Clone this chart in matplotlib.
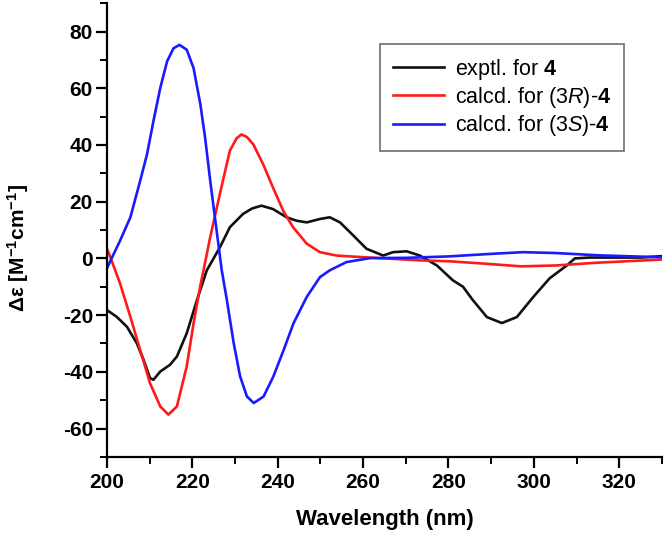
import numpy as np
import matplotlib
matplotlib.use("Agg")
import matplotlib.pyplot as plt
from matplotlib.ticker import MultipleLocator

# =========================
# FONTS
# =========================

plt.rcParams['font.family'] = ['Liberation Sans', 'DejaVu Sans']
plt.rcParams['mathtext.fontset'] = 'custom'
plt.rcParams['mathtext.rm'] = 'Liberation Sans'
plt.rcParams['mathtext.it'] = 'Liberation Sans:italic'
plt.rcParams['mathtext.bf'] = 'Liberation Sans:bold'
plt.rcParams['axes.unicode_minus'] = False

# =========================
# DATA
# =========================

wl_exptl = [200, 202.3, 204.7, 207, 208.6, 210.1, 210.9, 212.5, 214.8, 216.4,
            218.7, 221.1, 223.4, 226.5, 228.8, 231.9, 234, 236.2, 238.9, 242.1,
            244.4, 246.8, 249.9, 252.2, 254.6, 257.7, 260.8, 264.7, 267, 270.2,
            273.3, 277.3, 281, 283.4, 285.7, 289, 292.5, 296, 299.8, 303.7,
            307.7, 309.6, 313, 320, 325, 330]
de_exptl = [-18.2, -20.6, -24.1, -29.9, -35.8, -42.2, -42.8, -39.9, -37.5, -34.6,
            -26.4, -14.7, -4.2, 4, 11, 15.7, 17.6, 18.6, 17.4, 14.5,
            13.3, 12.7, 13.9, 14.5, 12.7, 8.1, 3.4, 1, 2.2, 2.5,
            1, -2.5, -7.7, -10, -14.7, -20.7, -22.8, -20.7, -13.7, -7,
            -2.5, 0, 0.3, 0.3, 0.3, 0.8]

wl_3R = [200, 200.8, 203.1, 205.5, 207.8, 210.1, 212.5, 214.4, 216.4, 218.7,
         220.3, 221.9, 223.2, 224.2, 226.5, 228.8, 230.4, 231.5, 232.8, 234.3,
         236.6, 238.9, 241.3, 243.6, 246.8, 249.9, 253.8, 259.3, 265, 273.3,
         280, 288, 297, 305, 315, 330]
de_3R = [3.5, 0.5, -8.9, -20.6, -32.3, -44, -52.2, -55.1, -52.2, -38.1,
         -22.9, -9.5, 0, 7.5, 23, 38, 42.4, 43.7, 42.8, 40.2,
         33.2, 25, 16.8, 11, 5.2, 2.2, 1, 0.5, 0, -0.7,
         -1, -1.8, -2.8, -2.5, -1.5, -0.4]

wl_3S = [200, 203.1, 205.5, 207.8, 209.4, 210.9, 212.5, 214.1, 215.6, 217,
         218.7, 220.3, 221.9, 223, 224.2, 225.4, 226.9, 228.1, 229.7, 231.2,
         232.8, 234.4, 236.7, 239, 241.4, 243.7, 246.8, 249.9, 252.2, 256.1,
         261.6, 270, 280, 290, 297.4, 305, 315, 330]
de_3S = [-3.5, 6.3, 14.5, 27.4, 36.7, 48.4, 60.1, 69.5, 74.1, 75.3,
         73.6, 67.1, 54.3, 42.6, 27.4, 13.3, -4.2, -14.7, -29.9, -41.6,
         -48.7, -51, -48.7, -41.6, -32.3, -22.9, -13.6, -6.6, -4.2, -1.3,
         0.1, 0.2, 0.7, 1.6, 2.2, 1.9, 1.1, 0.4]

labels = [r'exptl. for $\mathbf{4}$',
          r'calcd. for (3$\mathit{R}$)-$\mathbf{4}$',
          r'calcd. for (3$\mathit{S}$)-$\mathbf{4}$']
colors = ['#111111', '#ff1a1a', '#1a1aff']

# =========================
# PLOT
# =========================

fig = plt.figure(figsize=(6.68, 5.35), dpi=100)
ax = fig.add_axes([0.160, 0.146, 0.831, 0.848])

ax.plot(wl_exptl, de_exptl, color=colors[0], lw=1.9, label=labels[0],
        solid_joinstyle='round')
ax.plot(wl_3R, de_3R, color=colors[1], lw=1.9, label=labels[1],
        solid_joinstyle='round')
ax.plot(wl_3S, de_3S, color=colors[2], lw=1.9, label=labels[2],
        solid_joinstyle='round')

ax.set_xlim(200, 330)
ax.set_ylim(-70, 90)

ax.xaxis.set_major_locator(MultipleLocator(20))
ax.xaxis.set_minor_locator(MultipleLocator(10))
ax.yaxis.set_minor_locator(MultipleLocator(10))
ax.set_yticks([-60, -40, -20, 0, 20, 40, 60, 80])

for side in ['top', 'right']:
    ax.spines[side].set_visible(False)
for side in ['left', 'bottom']:
    ax.spines[side].set_linewidth(1.6)

ax.tick_params(which='major', direction='out', length=8, width=1.6,
               labelsize=15)
ax.tick_params(which='minor', direction='out', length=5, width=1.4)
ax.tick_params(axis='y', which='major', pad=2)
for lab in ax.get_xticklabels() + ax.get_yticklabels():
    lab.set_fontweight('bold')

ax.set_xlabel('Wavelength (nm)', fontsize=16, fontweight='bold', labelpad=12)
ax.set_ylabel(r'Δε [M$^{\mathbf{-1}}$cm$^{\mathbf{-1}}$]', fontsize=15,
              fontweight='bold')
ax.yaxis.set_label_coords(-0.137, 0.46)

leg = ax.legend(loc='upper right', bbox_to_anchor=(0.934, 0.918),
                bbox_transform=fig.transFigure, borderaxespad=0,
                fontsize=15.5, frameon=True, fancybox=False,
                handlelength=2.4, handletextpad=0.5, labelspacing=0.15,
                borderpad=0.6)
leg.get_frame().set_edgecolor('#505a60')
leg.get_frame().set_linewidth(1.3)

fig.savefig('out.png', dpi=100)
